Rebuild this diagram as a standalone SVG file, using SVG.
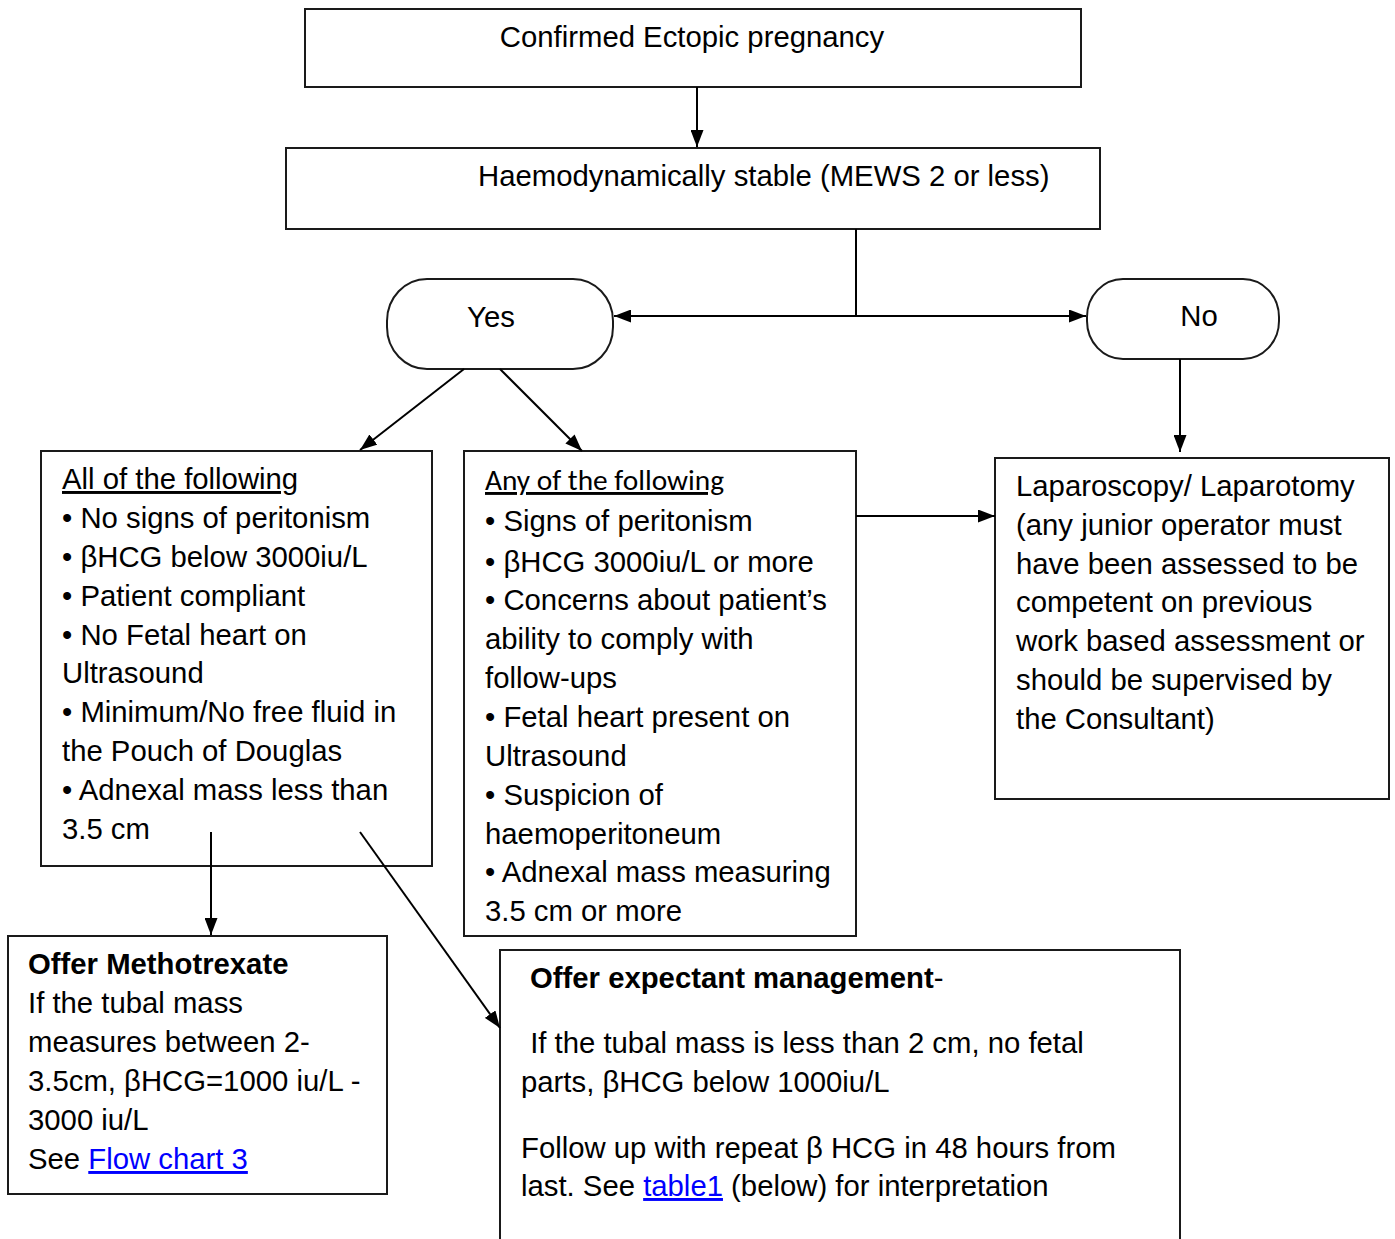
<svg xmlns="http://www.w3.org/2000/svg" width="1395" height="1239" viewBox="0 0 1395 1239">
<style>
  .box{fill:#fff;stroke:#1a1a1a;stroke-width:2}
  .t{font-family:"Liberation Sans",Arial,sans-serif;font-size:29.3px;fill:#000}
  .b{font-weight:bold}
  .cal{font-family:Carlito,Lato,"Liberation Sans",sans-serif;font-size:29px;fill:#000;text-decoration:underline}
  .link{fill:#0000ff;text-decoration:underline}
  .c{fill:none;stroke:#000;stroke-width:2}
</style>
<defs>
  <marker id="ah" viewBox="0 0 17 13" refX="17" refY="6.5" markerWidth="17" markerHeight="13" markerUnits="userSpaceOnUse" orient="auto-start-reverse">
    <path d="M0,0 L17,6.5 L0,13 z" fill="#000"/>
  </marker>
</defs>
<rect width="1395" height="1239" fill="#fff"/>

<g id="confirmed">
  <rect class="box" x="305" y="9" width="776" height="78"/>
  <text class="t" x="692" y="47" text-anchor="middle">Confirmed Ectopic pregnancy</text>
</g>

<g id="stable">
  <rect class="box" x="286" y="148" width="814" height="81"/>
  <text class="t" x="478" y="186">Haemodynamically stable (MEWS 2 or less)</text>
</g>

<g id="yes">
  <rect class="box" x="387" y="279" width="226" height="90" rx="40" ry="42"/>
  <text class="t" x="491" y="327" text-anchor="middle">Yes</text>
</g>

<g id="no">
  <rect class="box" x="1087" y="279" width="192" height="80" rx="36" ry="38"/>
  <text class="t" x="1199" y="326" text-anchor="middle">No</text>
</g>

<g id="all-following">
  <rect class="box" x="41" y="451" width="391" height="415"/>
  <text class="t" x="62" y="489" text-decoration="underline">All of the following</text>
  <text class="t" x="62" y="528">• No signs of peritonism</text>
  <text class="t" x="62" y="567">• βHCG below 3000iu/L</text>
  <text class="t" x="62" y="606">• Patient compliant</text>
  <text class="t" x="62" y="645">• No Fetal heart on</text>
  <text class="t" x="62" y="683">Ultrasound</text>
  <text class="t" x="62" y="722">• Minimum/No free fluid in</text>
  <text class="t" x="62" y="761">the Pouch of Douglas</text>
  <text class="t" x="62" y="800">• Adnexal mass less than</text>
  <text class="t" x="62" y="839">3.5 cm</text>
</g>

<g id="any-following">
  <rect class="box" x="464" y="451" width="392" height="485"/>
  <text class="cal" x="485" y="490" textLength="239" lengthAdjust="spacingAndGlyphs">Any of the following</text>
  <text class="t" x="485" y="531">• Signs of peritonism</text>
  <text class="t" x="485" y="572">• βHCG 3000iu/L or more</text>
  <text class="t" x="485" y="610">• Concerns about patient’s</text>
  <text class="t" x="485" y="649">ability to comply with</text>
  <text class="t" x="485" y="688">follow-ups</text>
  <text class="t" x="485" y="727">• Fetal heart present on</text>
  <text class="t" x="485" y="766">Ultrasound</text>
  <text class="t" x="485" y="805">• Suspicion of</text>
  <text class="t" x="485" y="844">haemoperitoneum</text>
  <text class="t" x="485" y="882">• Adnexal mass measuring</text>
  <text class="t" x="485" y="921">3.5 cm or more</text>
</g>

<g id="laparoscopy">
  <rect class="box" x="995" y="458" width="394" height="341"/>
  <text class="t" x="1016" y="496">Laparoscopy/ Laparotomy</text>
  <text class="t" x="1016" y="535">(any junior operator must</text>
  <text class="t" x="1016" y="574">have been assessed to be</text>
  <text class="t" x="1016" y="612">competent on previous</text>
  <text class="t" x="1016" y="651">work based assessment or</text>
  <text class="t" x="1016" y="690">should be supervised by</text>
  <text class="t" x="1016" y="729">the Consultant)</text>
</g>

<g id="methotrexate">
  <rect class="box" x="8" y="936" width="379" height="258"/>
  <text class="t b" x="28" y="974">Offer Methotrexate</text>
  <text class="t" x="28" y="1013">If the tubal mass</text>
  <text class="t" x="28" y="1052">measures between 2-</text>
  <text class="t" x="28" y="1091">3.5cm, βHCG=1000 iu/L -</text>
  <text class="t" x="28" y="1130">3000 iu/L</text>
  <text class="t" x="28" y="1169">See <tspan class="link">Flow chart 3</tspan></text>
</g>

<g id="expectant">
  <path class="box" d="M500,1245 L500,950 L1180,950 L1180,1245"/>
  <text class="t" x="530" y="988"><tspan class="b">Offer expectant management</tspan>-</text>
  <text class="t" x="522" y="1053" xml:space="preserve"> If the tubal mass is less than 2 cm, no fetal</text>
  <text class="t" x="521" y="1092">parts, βHCG below 1000iu/L</text>
  <text class="t" x="521" y="1158">Follow up with repeat β HCG in 48 hours from</text>
  <text class="t" x="521" y="1196">last. See <tspan class="link">table1</tspan> (below) for interpretation</text>
</g>

<g id="connectors">
  <line class="c" x1="697" y1="87" x2="697" y2="147" marker-end="url(#ah)"/>
  <line class="c" x1="856" y1="229" x2="856" y2="316"/>
  <line class="c" x1="614" y1="316" x2="1086" y2="316" marker-start="url(#ah)" marker-end="url(#ah)"/>
  <line class="c" x1="464" y1="369" x2="360" y2="450" marker-end="url(#ah)"/>
  <line class="c" x1="500" y1="369" x2="582" y2="451" marker-end="url(#ah)"/>
  <line class="c" x1="1180" y1="359" x2="1180" y2="452" marker-end="url(#ah)"/>
  <line class="c" x1="856" y1="516" x2="995" y2="516" marker-end="url(#ah)"/>
  <line class="c" x1="211" y1="832" x2="211" y2="935" marker-end="url(#ah)"/>
  <line class="c" x1="360" y1="832" x2="500" y2="1028" marker-end="url(#ah)"/>
</g>
</svg>
